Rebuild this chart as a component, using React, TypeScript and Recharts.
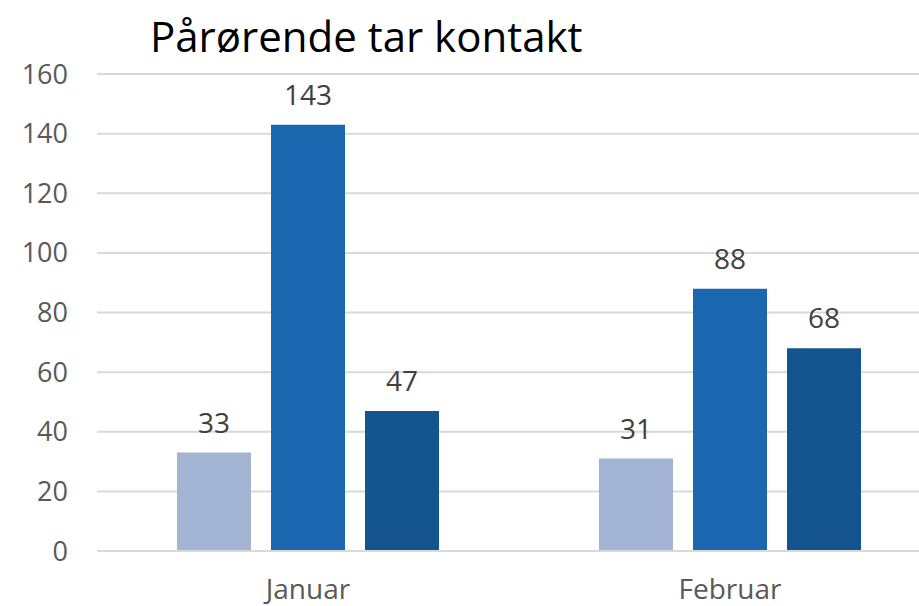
import React from 'react';
import { BarChart, Bar, XAxis, YAxis, CartesianGrid, LabelList } from 'recharts';

const months = ['Januar', 'Februar'];
const seriesA = [33, 31];
const seriesB = [143, 88];
const seriesC = [47, 68];
const yTicks = [0, 20, 40, 60, 80, 100, 120, 140, 160];

const data = months.map((m, i) => ({ month: m, a: seriesA[i], b: seriesB[i], c: seriesC[i] }));

const font = "'Open Sans', 'Noto Sans', sans-serif";
const labelStyle = { fill: '#404040', fontSize: 28, fontFamily: font };

export default function App() {
    return (
        <div style={{ position: 'fixed', left: 0, top: 0, width: 919, height: 606, overflow: 'hidden', background: '#fff' }}>
            <div style={{ position: 'absolute', left: 150, top: 7, fontFamily: font, fontSize: 42, color: '#000', whiteSpace: 'nowrap' }}>
                Pårørende tar kontakt
            </div>
            <BarChart width={941} height={606} data={data} margin={{ top: 74, right: 0, bottom: 0, left: 0 }} barGap={20} barCategoryGap={80}>
                <CartesianGrid vertical={false} stroke="#d9d9d9" strokeWidth={2} />
                <XAxis dataKey="month" axisLine={{ stroke: '#d9d9d9', strokeWidth: 2 }} tickLine={false} tickSize={0} tickMargin={28} height={55}
                    tick={{ fill: '#595959', fontSize: 28, fontFamily: font }} />
                <YAxis domain={[0, 160]} ticks={yTicks} axisLine={false} tickLine={false} tickSize={0} tickMargin={29} width={97}
                    tick={{ fill: '#595959', fontSize: 27, fontFamily: font }} />
                <Bar dataKey="a" fill="#a2b3d4" barSize={74} isAnimationActive={false}>
                    <LabelList dataKey="a" position="top" offset={20} style={labelStyle} />
                </Bar>
                <Bar dataKey="b" fill="#1c68b0" barSize={74} isAnimationActive={false}>
                    <LabelList dataKey="b" position="top" offset={20} style={labelStyle} />
                </Bar>
                <Bar dataKey="c" fill="#14548f" barSize={74} isAnimationActive={false}>
                    <LabelList dataKey="c" position="top" offset={20} style={labelStyle} />
                </Bar>
            </BarChart>
        </div>
    );
}
